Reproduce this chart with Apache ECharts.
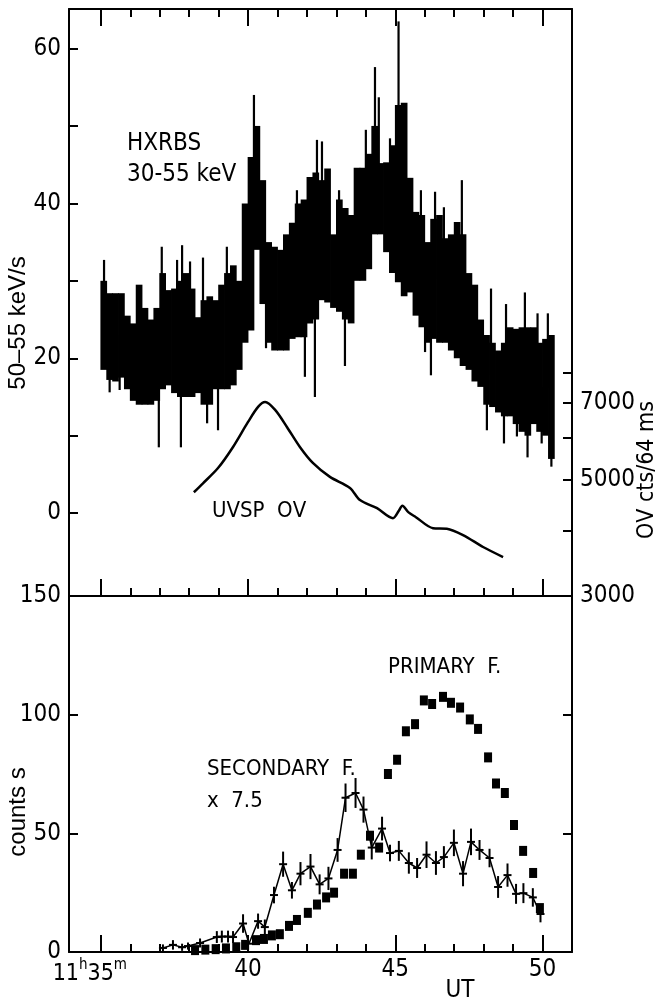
<!DOCTYPE html>
<html>
<head>
<meta charset="utf-8">
<title>HXRBS / UVSP O V / counts</title>
<script src="https://cdn.jsdelivr.net/npm/echarts@6.0.0/dist/echarts.min.js"></script>
<style>
  html, body { margin: 0; padding: 0; background: #fff; }
  .w_chart { width: 655px; height: 1002px; }
</style>
</head>
<body>
<div class="w_chart"></div>
<script>
// ---------- values (time in minutes after 11h) ----------
var xMajorTicks = [35, 40, 45, 50];
var xMinorTicks = [36, 37, 38, 39, 41, 42, 43, 44, 46, 47, 48, 49];
var rateTicks = [0, 10, 20, 30, 40, 50, 60];
var rateLabels = [0, 20, 40, 60];
var uvTicks = [3000, 4000, 5000, 6000, 7000, 8000];
var uvLabels = [3000, 5000, 7000];
var countTicks = [0, 50, 100, 150];
var countRightTicks = [50, 100];

// HXRBS: 0.2 min bins from 35.1, upper and lower edge of the black band
var hxStart = 35.1;
var hxStep = 0.2;
var hxHigh = [30, 28.4, 28.4, 28.4, 25.5, 24.5, 29.5, 26.5, 25, 26.5,
  31, 28.8, 29, 30, 31, 29, 25.3, 27.5, 28, 27.5,
  29.5, 31, 32, 30, 40, 46, 50, 43, 35, 34.4,
  34, 36, 37.5, 40, 40.5, 43.4, 44, 43, 44.5, 36,
  40.5, 39.4, 38.5, 44.6, 44.6, 46.4, 50, 45.2, 45.3, 47.5,
  52.7, 53, 43.3, 38.9, 38.5, 35, 38, 38.5, 35.5, 36,
  37.6, 36, 31, 29.5, 25, 23, 22, 21, 22, 24,
  23.8, 24, 24, 24, 22, 22.5, 23];
var hxLow = [18.5, 17.2, 17, 17.5, 16, 14.5, 14, 14, 14, 14.5,
  16, 16.5, 15.5, 15, 15, 15, 15.5, 14, 14, 16,
  16, 16, 16.5, 18.5, 22, 23.6, 34, 27, 22, 21,
  21, 21, 22.5, 22.7, 22.7, 24.5, 25, 27.5, 27.2, 26.5,
  26, 25, 24.5, 30, 30, 31.5, 36, 36, 33.7, 31,
  29.8, 28, 28.5, 25.5, 24, 22, 22.5, 22, 22, 21,
  20, 19, 18.5, 17, 16.3, 14, 13.7, 13, 12.5, 12.5,
  11.5, 10.5, 10, 11.5, 10.5, 10, 7];
// thin spikes sticking out of the band [time, rate]
var hxSpikes = [[35.11, 32.7], [35.3, 15.6], [35.64, 15.9], [36.97, 8.5], [37.07, 34.4],
  [37.59, 32.7], [37.72, 8.5], [37.76, 34.6], [38.03, 32.5], [38.47, 33],
  [38.61, 11.6], [38.98, 10.7], [39.28, 34.4], [40.2, 54], [40.61, 21.3],
  [41.66, 41.7], [41.93, 17.6], [42.27, 15], [42.34, 48.2], [42.51, 48],
  [43.09, 41.7], [43.29, 19], [44.0, 49.5], [44.31, 57.6], [44.44, 53.7],
  [44.82, 48.4], [45.11, 63.5], [45.87, 41.7], [46.01, 20.8], [46.21, 17.8],
  [46.35, 41.5], [46.65, 39.5], [47.26, 43], [48.11, 10.7], [48.25, 29],
  [48.69, 9], [48.76, 27], [49.13, 9.9], [49.4, 28.5], [49.49, 7.2],
  [49.83, 25.8], [49.97, 9], [50.18, 25.8], [50.3, 6]];

// UVSP O V (cts / 64 ms, right axis, logarithmic)
var uvTime = [38.16, 38.47, 38.98, 39.49, 40.0, 40.34, 40.58, 40.92, 41.32, 41.76,
  42.2, 42.78, 43.46, 43.8, 44.38, 44.92, 45.12, 45.24, 45.45, 45.7,
  46.28, 46.75, 47.3, 47.98, 48.66];
var uvCounts = [4730, 4920, 5260, 5770, 6440, 6880, 7030, 6790, 6300, 5770,
  5380, 5060, 4820, 4570, 4410, 4220, 4360, 4460, 4330, 4240,
  4040, 4030, 3920, 3720, 3560];

// lower panel, primary flare (squares)
var priTime = [38.2, 38.55, 38.9, 39.25, 39.6, 39.9, 40.27, 40.54, 40.81, 41.08,
  41.39, 41.66, 42.03, 42.34, 42.65, 42.92, 43.26, 43.56, 43.83, 44.14,
  44.45, 44.75, 45.06, 45.36, 45.67, 45.97, 46.25, 46.62, 46.89, 47.2,
  47.53, 47.81, 48.15, 48.42, 48.72, 49.03, 49.34, 49.68, 49.91];
var priCounts = [0.8, 1, 1.2, 1.5, 2, 3, 5, 5.5, 7, 7.5,
  11, 13.5, 16.5, 20, 23, 25, 33, 33, 41, 49,
  44, 75, 81, 93, 96, 106, 104.5, 107.5, 105, 103,
  98, 94, 82, 71, 67, 53.5, 42.6, 33.3, 18.5];

// lower panel, secondary flare x 7.5 (crosses with error bars)
var secTime = [37.11, 37.45, 37.76, 37.96, 38.37, 38.94, 39.11, 39.32, 39.49, 39.83,
  40.03, 40.34, 40.57, 40.88, 41.19, 41.49, 41.78, 42.12, 42.43, 42.73,
  43.04, 43.31, 43.65, 43.92, 44.2, 44.55, 44.82, 45.12, 45.46, 45.74,
  46.06, 46.38, 46.65, 46.99, 47.3, 47.57, 47.86, 48.2, 48.49, 48.81,
  49.1, 49.35, 49.67, 49.93];
var secCounts = [1.7, 3, 2, 2.5, 3.8, 6.3, 6.5, 6.5, 6.3, 12,
  3.5, 13, 10.5, 24, 37, 26, 33, 36, 28.5, 31,
  43, 65, 67, 60, 44, 52, 41.7, 42.6, 37.5, 35.4,
  41, 37.5, 40, 46, 33, 46.4, 43, 39.6, 27.4, 32.4,
  24.5, 24.8, 23, 16];
var secErr = [1.5, 2, 1.5, 1.5, 1.9, 2.5, 2.5, 2.5, 2.5, 3.9,
  0, 3.2, 3.2, 3.5, 5.3, 3.5, 4.9, 5.3, 4.2, 4.9,
  5, 6, 6.3, 5.5, 5, 5, 3.5, 4.2, 4.5, 4.2,
  5.6, 5, 4.6, 5.6, 5.3, 5.6, 4.2, 3.9, 4.6, 4.9,
  4.2, 4.2, 3.9, 3.5];

(function () {
  var myChart = echarts.init(document.querySelector(".w_chart"));

  var NARROW = "'Liberation Sans Narrow', 'DejaVu Sans Condensed', 'Liberation Sans', sans-serif";
  var PLAIN = "'Liberation Sans', 'DejaVu Sans', sans-serif";
  var INK = "#000";
  var xMin = 33.92, xMax = 51.0;
  var log10 = function (v) { return Math.log10(v); };

  // time axis with ticks only (frame edge + inward ticks)
  function timeAxis(grid, pos, ticks, len, showLine) {
    return {
      type: "value", gridIndex: grid, position: pos, min: xMin, max: xMax,
      axisLine: { show: showLine, onZero: false, lineStyle: { color: INK, width: 2 } },
      axisTick: { show: true, inside: true, length: len, customValues: ticks, lineStyle: { color: INK, width: 2 } },
      axisLabel: { show: false },
      splitLine: { show: false }
    };
  }

  var labelAxis = timeAxis(1, "bottom", xMajorTicks, 17, true);
  labelAxis.axisLabel = {
    show: true,
    customValues: xMajorTicks,
    margin: 6,
    color: INK,
    fontSize: 24,
    fontFamily: NARROW,
    formatter: function (v) {
      return v === 35 ? "{n|11}{s|h}{n|35}{m|m}" : String(v);
    },
    rich: {
      n: { fontSize: 23, fontFamily: NARROW, color: INK, lineHeight: 28, verticalAlign: "bottom" },
      s: { fontSize: 15, fontFamily: NARROW, color: INK, lineHeight: 15, verticalAlign: "top" },
      m: { fontSize: 15, fontFamily: NARROW, color: INK, lineHeight: 15, verticalAlign: "top", padding: [0, 22, 0, 0] }
    }
  };

  function valueAxis(grid, pos, min, max, ticks, labels, fmt) {
    return {
      type: "value", gridIndex: grid, position: pos, min: min, max: max,
      axisLine: { show: true, onZero: false, lineStyle: { color: INK, width: 2 } },
      axisTick: { show: true, inside: true, length: 9, customValues: ticks, lineStyle: { color: INK, width: 2 } },
      axisLabel: {
        show: labels.length > 0, customValues: labels, margin: 8,
        color: INK, fontSize: 24, fontFamily: NARROW, formatter: fmt
      },
      splitLine: { show: false }
    };
  }

  var hiddenY = function (grid) {
    return { type: "value", gridIndex: grid, show: false, min: 0, max: 1 };
  };

  // band of the HXRBS rate
  var bandData = hxHigh.map(function (h, i) {
    return [hxStart + i * hxStep, hxLow[i], h];
  });
  var spikeData = hxSpikes.map(function (s) {
    var i = Math.min(hxHigh.length - 1, Math.max(0, Math.round((s[0] - hxStart) / hxStep)));
    return [s[0], s[1], (hxHigh[i] + hxLow[i]) / 2];
  });

  var option = {
    animation: false,
    backgroundColor: "#fff",
    grid: [
      { left: 69, top: 9, width: 503, height: 587, containLabel: false, outerBoundsMode: "none" },
      { left: 69, top: 596, width: 503, height: 356, containLabel: false, outerBoundsMode: "none" },
      { left: 69, top: 9, width: 503, height: 587, containLabel: false, outerBoundsMode: "none" },
      { left: 69, top: 596, width: 503, height: 356, containLabel: false, outerBoundsMode: "none" }
    ],
    xAxis: [
      timeAxis(0, "bottom", xMajorTicks, 17, true),
      timeAxis(0, "top", xMajorTicks, 17, true),
      labelAxis,
      timeAxis(2, "bottom", xMinorTicks, 8, false),
      timeAxis(2, "top", xMinorTicks, 8, false),
      timeAxis(3, "bottom", xMinorTicks, 8, false)
    ],
    yAxis: [
      valueAxis(0, "left", -10.7, 65.1, rateTicks, rateLabels),
      valueAxis(0, "right", log10(3000), 4.596, uvTicks.map(log10), uvLabels.map(log10),
        function (v) { return String(Math.round(Math.pow(10, v) / 1000) * 1000); }),
      valueAxis(1, "left", 0, 150, countTicks, countTicks),
      valueAxis(1, "right", 0, 150, countRightTicks, []),
      hiddenY(2),
      hiddenY(3)
    ],
    series: [
      {
        name: "HXRBS 30-55 keV",
        type: "custom",
        xAxisIndex: 0, yAxisIndex: 0,
        encode: { x: 0, y: [1, 2] },
        data: bandData,
        renderItem: function (params, api) {
          var t = api.value(0);
          var top = api.coord([t - hxStep / 2, api.value(2)]);
          var bot = api.coord([t + hxStep / 2, api.value(1)]);
          return {
            type: "rect",
            shape: { x: top[0] - 0.4, y: top[1], width: bot[0] - top[0] + 0.8, height: bot[1] - top[1] },
            style: { fill: INK }
          };
        }
      },
      {
        name: "HXRBS spikes",
        type: "custom",
        xAxisIndex: 0, yAxisIndex: 0,
        encode: { x: 0, y: [1, 2] },
        data: spikeData,
        renderItem: function (params, api) {
          var a = api.coord([api.value(0), api.value(1)]);
          var b = api.coord([api.value(0), api.value(2)]);
          return {
            type: "line",
            shape: { x1: a[0], y1: a[1], x2: b[0], y2: b[1] },
            style: { stroke: INK, lineWidth: 2.2 }
          };
        }
      },
      {
        name: "UVSP O V",
        type: "line",
        xAxisIndex: 0, yAxisIndex: 1,
        smooth: 0.3,
        showSymbol: false,
        symbol: "none",
        lineStyle: { color: INK, width: 2.5 },
        data: uvTime.map(function (t, i) { return [t, log10(uvCounts[i])]; })
      },
      {
        name: "Secondary F. x 7.5",
        type: "line",
        xAxisIndex: 2, yAxisIndex: 2,
        symbol: "none",
        lineStyle: { color: INK, width: 1.5 },
        data: secTime.map(function (t, i) { return [t, secCounts[i]]; })
      },
      {
        name: "Secondary error bars",
        type: "custom",
        xAxisIndex: 2, yAxisIndex: 2,
        encode: { x: 0, y: 1 },
        data: secTime.map(function (t, i) { return [t, secCounts[i], secErr[i]]; }),
        renderItem: function (params, api) {
          var t = api.value(0), v = api.value(1), e = api.value(2);
          var c = api.coord([t, v]);
          var up = api.coord([t, v + e]);
          var dn = api.coord([t, Math.max(0, v - e)]);
          return {
            type: "group",
            children: [
              { type: "line", shape: { x1: c[0], y1: up[1], x2: c[0], y2: dn[1] }, style: { stroke: INK, lineWidth: 2 } },
              { type: "line", shape: { x1: c[0] - 4, y1: c[1], x2: c[0] + 4, y2: c[1] }, style: { stroke: INK, lineWidth: 2 } }
            ]
          };
        }
      },
      {
        name: "Primary F.",
        type: "scatter",
        xAxisIndex: 2, yAxisIndex: 2,
        symbol: "rect",
        symbolSize: [8, 10],
        itemStyle: { color: INK, opacity: 1 },
        data: priTime.map(function (t, i) { return [t, priCounts[i]]; })
      }
    ],
    graphic: [
      { type: "text", x: 18, y: 323, rotation: Math.PI / 2,
        style: { text: "50–55 keV/s", fontSize: 24, fontFamily: PLAIN, fill: INK, align: "center", verticalAlign: "middle", textAlign: "center", textVerticalAlign: "middle" } },
      { type: "text", x: 18, y: 812, rotation: Math.PI / 2,
        style: { text: "counts s", fontSize: 24, fontFamily: PLAIN, fill: INK, align: "center", verticalAlign: "middle", textAlign: "center", textVerticalAlign: "middle" } },
      { type: "text", x: 647, y: 470, rotation: Math.PI / 2,
        style: { text: "OⅤ cts/64 ms", fontSize: 23, fontFamily: NARROW, fill: INK, align: "center", verticalAlign: "middle", textAlign: "center", textVerticalAlign: "middle" } },
      { type: "text", x: 460, y: 979,
        style: { text: "UT", fontSize: 24, fontFamily: NARROW, fill: INK, align: "center", verticalAlign: "top", textAlign: "center", textVerticalAlign: "top" } },
      { type: "text", x: 127, y: 128,
        style: { text: "HXRBS\n30-55 keV", fontSize: 24, lineHeight: 31, fontFamily: NARROW, fill: INK, align: "left", verticalAlign: "top", textAlign: "left", textVerticalAlign: "top" } },
      { type: "text", x: 212, y: 500,
        style: { text: "UVSP  OⅤ", fontSize: 22, fontFamily: NARROW, fill: INK, align: "left", verticalAlign: "top", textAlign: "left", textVerticalAlign: "top" } },
      { type: "text", x: 388, y: 656,
        style: { text: "PRIMARY  F.", fontSize: 22, fontFamily: NARROW, fill: INK, align: "left", verticalAlign: "top", textAlign: "left", textVerticalAlign: "top" } },
      { type: "text", x: 207, y: 753,
        style: { text: "SECONDARY  F.\nx  7.5", fontSize: 22, lineHeight: 32, fontFamily: NARROW, fill: INK, align: "left", verticalAlign: "top", textAlign: "left", textVerticalAlign: "top" } }
    ]
  };

  myChart.setOption(option);
  window.addEventListener("resize", function () {
    myChart.resize();
  });
})();
</script>
</body>
</html>
